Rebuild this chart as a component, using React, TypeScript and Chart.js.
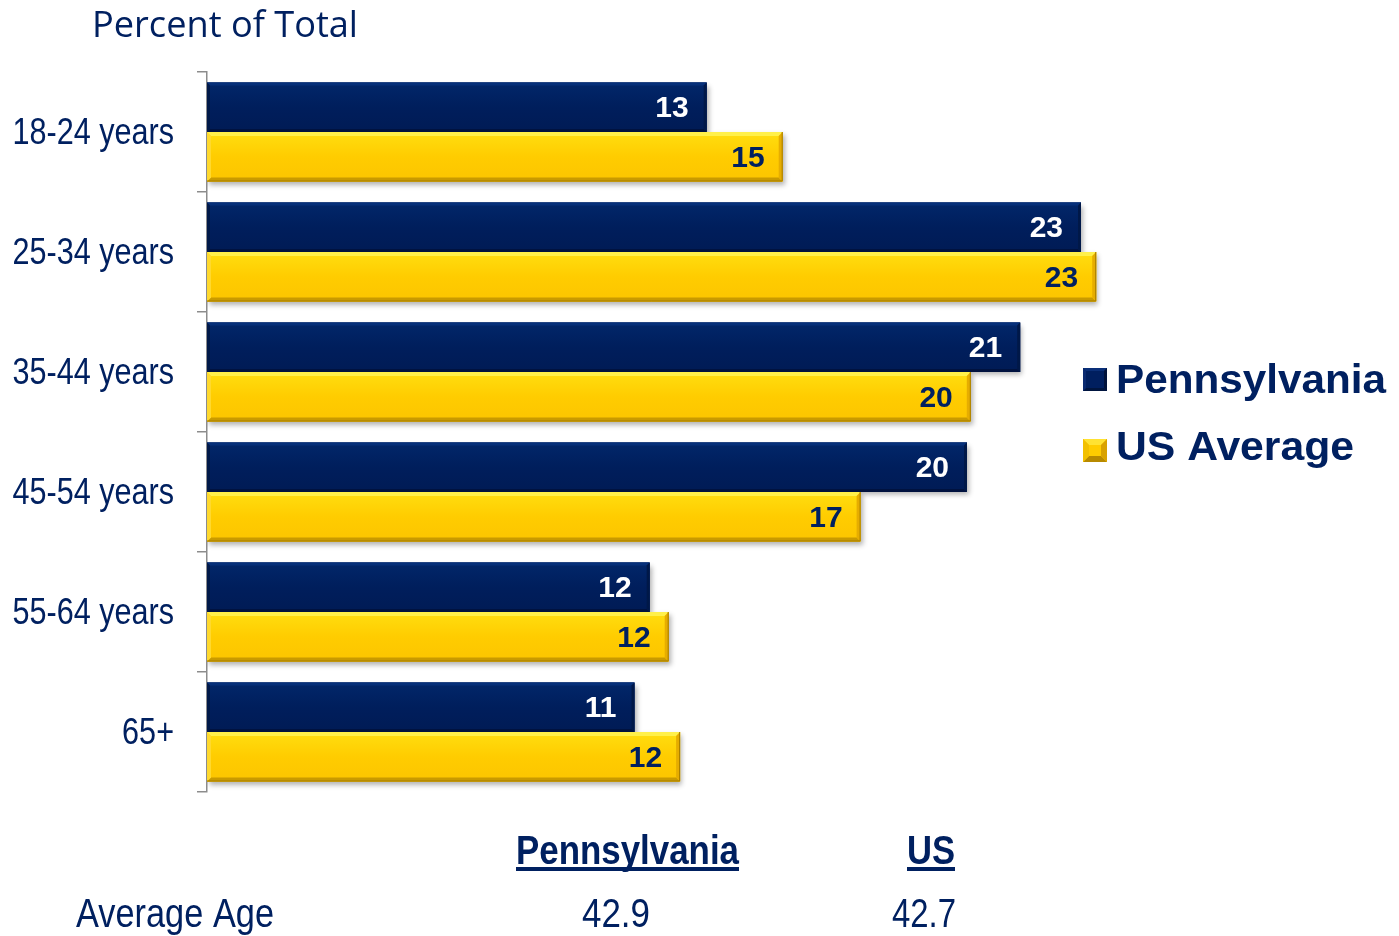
import React, { useEffect, useRef } from "react";
import { Chart, registerables } from "chart.js";

Chart.register(...registerables);

const categories = ["18-24 years", "25-34 years", "35-44 years", "45-54 years", "55-64 years", "65+"];
const pennsylvania = [13.15, 23.0, 21.4, 20.0, 11.65, 11.25];
const usAverage = [15.15, 23.4, 20.1, 17.2, 12.15, 12.45];
const pennsylvaniaLabels = ["13", "23", "21", "20", "12", "11"];
const usAverageLabels = ["15", "23", "20", "17", "12", "12"];
const seriesNames = ["Pennsylvania", "US Average"];
const avgAgeHeaders = ["Pennsylvania", "US"];
const avgAgeValues = ["42.9", "42.7"];

const NAVY = "#001f5f";
const GOLD = "#ffcc00";
const TEXT = "#002060";
const ARIAL = '"Liberation Sans", Arial, sans-serif';

function fitText(ctx: CanvasRenderingContext2D, text: string, font: string, x: number, baseline: number, width: number | null, color: string, align: "left" | "right" = "left", scaleX = 1) {
  ctx.save();
  ctx.font = font;
  ctx.fillStyle = color;
  ctx.textBaseline = "alphabetic";
  ctx.textAlign = "left";
  const w = ctx.measureText(text).width;
  const sx = width ? width / w : scaleX;
  const drawW = w * sx;
  const left = align === "left" ? x : x - drawW;
  ctx.translate(left, baseline);
  ctx.scale(sx, 1);
  ctx.fillText(text, 0, 0);
  ctx.restore();
}

function bevelRect(ctx: CanvasRenderingContext2D, x0: number, y0: number, x1: number, y1: number, b: number, cols: { top: string; bottom: string; left: string; right: string }) {
  const poly = (pts: number[][], c: string) => {
    ctx.beginPath();
    ctx.moveTo(pts[0][0], pts[0][1]);
    for (let i = 1; i < pts.length; i++) ctx.lineTo(pts[i][0], pts[i][1]);
    ctx.closePath();
    ctx.fillStyle = c;
    ctx.fill();
  };
  poly([[x0, y0], [x1, y0], [x1 - b, y0 + b], [x0 + b, y0 + b]], cols.top);
  poly([[x0, y1], [x1, y1], [x1 - b, y1 - b], [x0 + b, y1 - b]], cols.bottom);
  poly([[x0, y0], [x0 + b, y0 + b], [x0 + b, y1 - b], [x0, y1]], cols.left);
  poly([[x1, y0], [x1 - b, y0 + b], [x1 - b, y1 - b], [x1, y1]], cols.right);
}

const goldBevel = { top: "#fff04a", bottom: "#c99a00", left: "#ffd92e", right: "#e6ad00" };
const navyBevel = { top: "#06307a", bottom: "#00123f", left: "#001848", right: "#001848" };

const decorPlugin = {
  id: "decor",
  beforeDatasetsDraw(chart: any) {
    const ctx = chart.ctx;
    ctx.save();
    ctx.shadowColor = "rgba(0,0,0,0.30)";
    ctx.shadowBlur = 5;
    ctx.shadowOffsetX = 2;
    ctx.shadowOffsetY = 3;
  },
  afterDatasetsDraw(chart: any) {
    const ctx = chart.ctx;
    ctx.restore();
    [1, 0].forEach((di) => {
      const meta = chart.getDatasetMeta(di);
      meta.data.forEach((bar: any) => {
        const { x, y, base, height } = bar.getProps(["x", "y", "base", "height"], true);
        const y0 = y - height / 2;
        const y1 = y + height / 2;
        if (di === 1) {
          const g = ctx.createLinearGradient(0, y0, 0, y1);
          g.addColorStop(0, "#ffde10");
          g.addColorStop(0.5, "#ffcc00");
          g.addColorStop(1, "#fcc500");
          ctx.fillStyle = g;
          ctx.fillRect(base, y0, x - base, y1 - y0);
          bevelRect(ctx, base, y0, x, y1, 4, goldBevel);
          ctx.strokeStyle = "#a57c00";
          ctx.lineWidth = 1;
          ctx.beginPath();
          ctx.moveTo(base, y1 - 0.5);
          ctx.lineTo(x - 0.5, y1 - 0.5);
          ctx.lineTo(x - 0.5, y0);
          ctx.stroke();
        } else {
          const g = ctx.createLinearGradient(0, y0, 0, y1);
          g.addColorStop(0, "#02276a");
          g.addColorStop(0.5, "#001e5c");
          g.addColorStop(1, "#001b55");
          ctx.fillStyle = g;
          ctx.fillRect(base, y0, x - base, y1 - y0);
          bevelRect(ctx, base, y0, x, y1, 3, navyBevel);
        }
      });
    });
    const labelSets = [pennsylvaniaLabels, usAverageLabels];
    const labelColors = ["#ffffff", TEXT];
    [0, 1].forEach((di) => {
      const meta = chart.getDatasetMeta(di);
      meta.data.forEach((bar: any, i: number) => {
        const { x, y } = bar.getProps(["x", "y"], true);
        fitText(ctx, labelSets[di][i], `bold 30px ${ARIAL}`, x - 18, y + 10, null, labelColors[di], "right");
      });
    });
  },
  afterDraw(chart: any) {
    const ctx = chart.ctx;
    const yScale = chart.scales.y;
    categories.forEach((c, i) => {
      const cy = yScale.getPixelForTick(i);
      fitText(ctx, c, `36px ${ARIAL}`, 174, cy + 12, null, TEXT, "right", 0.85);
    });
    fitText(ctx, "Percent of Total", '36px "Open Sans", sans-serif', 92, 37, 266, TEXT);
    const sq = [
      { y: 368, fill: NAVY },
      { y: 439, fill: GOLD },
    ];
    sq.forEach((s, i) => {
      ctx.fillStyle = s.fill;
      ctx.fillRect(1083, s.y, 24, 23);
      if (i === 1) {
        bevelRect(ctx, 1083, s.y, 1107, s.y + 23, 11.5, { top: "#ffe233", bottom: "#b88a00", left: "#f2c000", right: "#d9a200" });
        ctx.fillStyle = GOLD;
        ctx.fillRect(1089, s.y + 6, 12, 11);
      } else {
        bevelRect(ctx, 1083, s.y, 1107, s.y + 23, 3, { top: "#0a2f78", bottom: "#00153f", left: "#0a2a70", right: "#00123a" });
      }
    });
    fitText(ctx, seriesNames[0], `bold 41px ${ARIAL}`, 1116, 393, 270, TEXT);
    fitText(ctx, seriesNames[1], `bold 41px ${ARIAL}`, 1116, 460, 238, TEXT);
    const headerX = [[516, 223], [907, 48]];
    avgAgeHeaders.forEach((h, i) => {
      const [hx, hw] = headerX[i];
      fitText(ctx, h, `bold 40px ${ARIAL}`, hx, 864, hw, TEXT);
      ctx.fillStyle = TEXT;
      ctx.fillRect(hx, 867, hw, 4);
    });
    fitText(ctx, "Average Age", `40px ${ARIAL}`, 76, 927, 198, TEXT);
    const valX = [[582, 68], [892, 64]];
    avgAgeValues.forEach((v, i) => {
      fitText(ctx, v, `40px ${ARIAL}`, valX[i][0], 927, valX[i][1], TEXT);
    });
  },
};

export default function App() {
  const ref = useRef<HTMLCanvasElement | null>(null);
  useEffect(() => {
    if (!ref.current) return;
    const chart = new Chart(ref.current, {
      type: "bar",
      data: {
        labels: categories,
        datasets: [
          { label: seriesNames[0], data: pennsylvania, backgroundColor: NAVY, borderWidth: 0 },
          { label: seriesNames[1], data: usAverage, backgroundColor: GOLD, borderWidth: 0 },
        ],
      },
      options: {
        indexAxis: "y",
        responsive: false,
        animation: false,
        devicePixelRatio: 1,
        layout: { padding: { left: 197, right: 242, top: 72, bottom: 144 } },
        datasets: { bar: { categoryPercentage: 0.825, barPercentage: 1.0 } },
        plugins: { legend: { display: false }, tooltip: { enabled: false }, title: { display: false } },
        scales: {
          x: { display: false, min: 0, max: 25 },
          y: {
            display: true,
            ticks: { display: false },
            grid: { display: true, drawOnChartArea: false, drawTicks: true, tickLength: 10, color: "#8c8c8c", lineWidth: 1.5, offset: true },
            border: { display: true, color: "#8c8c8c", width: 1.5 },
          },
        },
      },
      plugins: [decorPlugin],
    });
    return () => chart.destroy();
  }, []);
  return (
    <div style={{ position: "absolute", left: 0, top: 0, width: 1399, height: 936, background: "#ffffff" }}>
      <canvas ref={ref} width={1399} height={936} style={{ display: "block", width: 1399, height: 936 }} />
    </div>
  );
}
